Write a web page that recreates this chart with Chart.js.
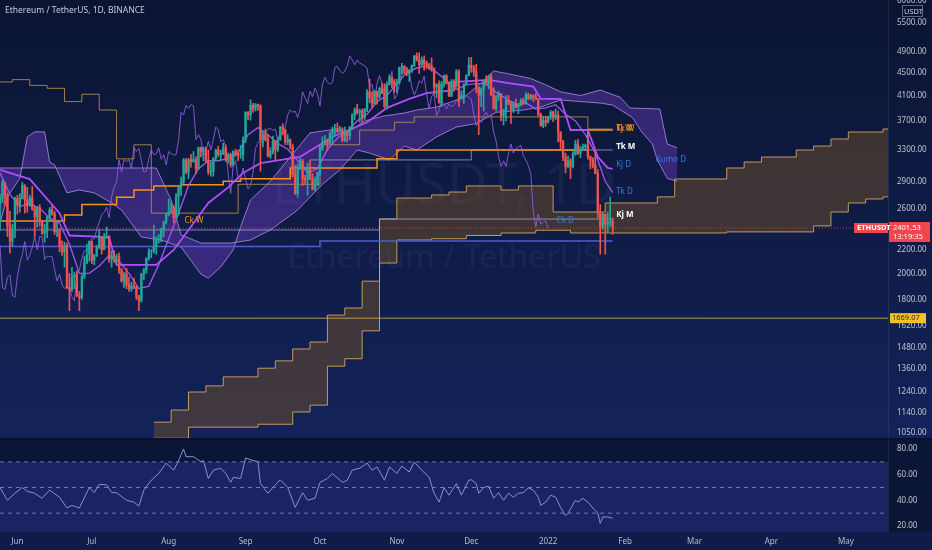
<!DOCTYPE html>
<html>
<head>
<meta charset="utf-8">
<script src="https://cdn.jsdelivr.net/npm/chart.js@4.4.1/dist/chart.umd.min.js"></script>
<style>
  html, body { margin: 0; padding: 0; background: #0e1a44; }
  #wrap { width: 932px; height: 550px; }
</style>
</head>
<body>
<div id="wrap"><canvas id="chart" width="932" height="550"></canvas></div>
<script>
// day 0 = 1 Jun 2021; candles run 25 May 2021 .. 27 Jan 2022
const firstDay = -7;
const firstOpen = 2643;

const closes = [
  2708,2888,2737,2420,2278,2390,2707,
  2634,2707,2855,2689,2628,2712,2592,2513,2610,2473,2355,2373,2508,2586,2550,2366,2373,2231,2181,2240,1888,1874,1968,1988,1830,1816,1972,2085,2160,2274,
  2110,2150,2220,2320,2200,2320,2320,2115,2145,2140,2140,2030,1940,1995,1910,1880,1900,1895,1820,1790,1995,2030,2125,2190,2190,2230,2300,2300,2385,2460,2535,
  2560,2610,2505,2725,2830,2890,3160,3010,3165,3140,3165,3050,3320,3270,3310,3150,3010,3020,3180,3290,3230,3240,3320,3170,3230,3100,3270,3240,3225,3230,3430,
  3830,3790,3940,3890,3950,3930,3430,3500,3430,3210,3270,3410,3290,3430,3610,3570,3400,3430,3330,2980,2760,3080,3150,2930,2920,3060,2930,2810,2850,3000,
  3310,3390,3420,3380,3520,3580,3590,3560,3580,3420,3540,3490,3610,3790,3870,3830,3850,3750,3880,4160,4060,3970,4170,4080,4220,4130,3930,4290,4410,4330,4290,
  4320,4590,4610,4530,4480,4520,4620,4810,4730,4640,4730,4670,4650,4620,4580,4240,4290,3990,4300,4440,4310,4090,4340,4270,4520,4040,4100,4290,4440,4630,
  4590,4510,4240,4110,4200,4350,4310,4430,4110,3890,4080,4130,3780,3860,4020,3960,3880,3960,3920,3940,4020,3980,4110,4050,4100,4070,4040,3800,3630,3710,3680,
  3770,3830,3760,3790,3540,3410,3200,3080,3150,3080,3240,3370,3250,3310,3330,3350,3210,3160,3090,2990,2560,2410,2540,2440,2460,2470,2401.53
];
const highs = [
  2750,2910,2890,2765,2570,2440,2720,
  2740,2760,2890,2860,2830,2740,2840,2620,2620,2640,2480,2440,2520,2610,2630,2570,2460,2400,2280,2270,2260,2000,2050,2010,2020,1860,1990,2140,2250,2280,
  2280,2160,2240,2390,2320,2350,2410,2330,2190,2190,2160,2170,2040,2010,2040,1970,1930,1960,1900,1830,2000,2040,2130,2210,2200,2430,2320,2340,2400,2470,2550,
  2700,2670,2630,2760,2840,2950,3180,3180,3180,3230,3270,3200,3330,3330,3330,3330,3290,3130,3190,3300,3340,3290,3380,3360,3250,3250,3280,3300,3290,3350,3470,
  3840,3840,4030,3970,3970,3960,3950,3550,3580,3500,3320,3480,3420,3460,3620,3660,3580,3500,3440,3370,3090,3110,3180,3170,2970,3120,3160,2990,2950,3010,
  3340,3470,3490,3440,3540,3610,3650,3670,3620,3600,3610,3550,3620,3810,3900,3960,3880,3880,3890,4200,4380,4160,4190,4170,4240,4300,4300,4300,4460,4420,4380,
  4380,4600,4670,4620,4590,4550,4640,4820,4870,4870,4790,4810,4710,4670,4770,4580,4300,4350,4340,4450,4460,4330,4370,4370,4550,4550,4180,4300,4460,4780,
  4780,4630,4650,4240,4230,4370,4440,4450,4480,4230,4100,4170,4130,3880,4100,4100,4010,4000,4040,3970,4050,4060,4150,4140,4120,4110,4130,4050,3820,3770,3770,
  3770,3860,3850,3880,3850,3540,3420,3250,3210,3180,3270,3420,3430,3340,3370,3370,3360,3200,3190,3280,3040,2640,2550,2540,2560,2720,2500
];
const lows = [
  2380,2660,2630,2320,2170,2230,2310,
  2540,2560,2700,2550,2560,2620,2580,2320,2410,2420,2340,2270,2310,2470,2530,2340,2320,2180,2150,2050,1880,1720,1860,1880,1820,1720,1800,1960,2080,2100,
  2080,2070,2140,2210,2160,2200,2300,2090,2050,2090,2080,2000,1930,1890,1880,1860,1860,1880,1800,1720,1780,1950,2000,2110,2130,2170,2160,2260,2270,2320,2440,
  2520,2550,2450,2490,2530,2740,2870,2990,2930,3070,3130,2990,3040,3200,3150,3130,2980,2960,2960,3150,3200,3150,3230,3140,3120,3070,3080,3210,3150,3180,3150,
  3390,3720,3710,3830,3850,3860,3020,3330,3410,3200,3180,3240,3160,3270,3420,3510,3360,3360,3300,2950,2750,2720,3040,2850,2860,2740,2920,2800,2790,2850,
  2970,3280,3370,3280,3370,3380,3480,3530,3550,3400,3400,3400,3430,3590,3720,3800,3680,3680,3720,3840,3980,3900,3950,3960,4050,4130,3900,3880,4280,4230,4150,
  4150,4300,4470,4480,4440,4340,4500,4610,4710,4480,4620,4540,4570,4550,4520,4120,4060,3970,3920,4240,4290,4080,4080,4170,4240,3920,4050,3970,4280,4440,
  4500,4430,4150,3500,3920,3850,4270,4210,4100,3880,3850,4020,3700,3640,3700,3950,3660,3830,3900,3810,3930,3950,3960,4030,4030,4000,4030,3770,3620,3600,3620,
  3670,3720,3690,3720,3400,3310,3150,3000,3060,2930,3060,3220,3230,3190,3280,3280,3170,3050,3060,2990,2500,2160,2390,2160,2360,2420,2340
];
const lastPrice = 2401.53;
const lastTime = "13:19:35";
const supportPrice = 1669.07;

// time axis
const monthDays = [0, 30, 61, 92, 122, 153, 183, 214, 245, 273, 304, 334];
const monthLabels = ["Jun", "Jul", "Aug", "Sep", "Oct", "Nov", "Dec", "2022", "Feb", "Mar", "Apr", "May"];
const priceTicks = [1050, 1140, 1240, 1360, 1480, 1620, 1800, 2000, 2200, 2600, 2900, 3300, 3700, 4100, 4500, 4900, 5500, 6000];
const rsiTicks = [20, 40, 60, 80];

// daily kumo (spans shifted forward)
const kumoDaysA = [-7,-4,1,4,7,11,13,15,20,25,31,38,42,50,58,66,74,77,82,87,90,94,102,110,118,126,133,140,148,156,161,169,180,187,192,198,207,213,219,227,235,243,247,259,262,266];
const kumoA = [2451,2723,2935,3468,3540,3540,3135,3098,2768,2800,2768,2657,2583,2316,2288,2224,1994,1962,2052,2198,2412,2690,2900,3198,3526,3567,3526,3700,3775,3820,3866,3912,4070,4310,4525,4475,4390,4280,4160,4100,4190,4070,3898,3882,3370,3320];
const kumoDaysB = [-7,56,62,66,74,86,94,102,113,123,130,137,142,150,156,161,169,177,185,193,204,211,219,235,240,248,252,256,258,262,266];
const kumoB = [3060,3060,2690,2335,2260,2260,2288,2383,2583,2865,3036,3290,3250,3161,3343,3290,3468,3610,3660,3830,3866,3912,4026,3976,3945,3750,3526,3370,3161,2935,2900];

// weekly kumo (stepped)
const wkDaysA = [55,62,69,76,83,97,104,111,118,125,132,139,146,153,167,174,181,195,202,216,237,258,265,286,293,300,314,321,328,335,349,351];
const wkA = [1097,1152,1239,1270,1317,1364,1405,1474,1516,1690,1739,1938,2491,2710,2744,2777,2846,2800,2846,2562,2657,2723,2927,3060,3135,3198,3290,3343,3440,3538,3582,3582];
const wkDaysB = [55,69,97,111,118,125,132,139,146,153,167,181,195,209,223,286,321,328,335,342,349,351];
const wkB = [1028,1075,1088,1143,1175,1375,1417,1586,2085,2288,2300,2330,2354,2380,2354,2364,2422,2562,2657,2700,2723,2723];

// daily tenkan / kijun
const tkDDays = [-7,-3,1,5,9,13,17,21,25,29,33,37,41,45,49,53,57,61,65,69,73,77,81,85,89,93,97,101,105,109,113,117,121,125,129,133,137,141,145,149,153,157,161,165,169,173,177,181,185,189,193,197,201,205,209,213,217,221,225,229,233,237,240];
const tkD = [3000,2750,2620,2650,2600,2500,2450,2250,2000,2000,2060,2150,2100,2000,1880,1900,2070,2300,2550,2850,3050,3150,3150,3180,3250,3500,3600,3500,3380,3300,3150,3000,3050,3300,3450,3550,3700,3800,4000,4100,4300,4500,4580,4620,4500,4350,4200,4280,4300,4300,4150,4050,3950,3980,3880,3900,3950,3800,3700,3500,3250,2900,2770];
const kjDDays = [-7,5,17,21,37,40,56,63,69,77,85,91,98,114,127,141,149,158,165,176,177,190,198,208,211,219,223,230,234,238,240];
const kjD = [3036,2925,2550,2330,2316,2069,2069,2198,2383,2657,2830,3000,3120,3200,3468,3680,3900,4045,4140,4190,4330,4366,4310,4250,4045,4045,3567,3567,3200,3060,3048];

// weekly / monthly lines (stepped)
const tkWDays = [-7,19,26,40,47,55,66,83,90,110,145,153,230,240];
const tkW = [2470,2530,2640,2720,2800,2846,2860,2900,2930,3060,3175,3290,3565,3565];
const kjWDays = [-7,-2,5,12,19,26,33,40,47,54,89,122,138,152,160,230,240];
const kjW = [4330,4370,4270,4220,4000,4120,3866,3175,3360,2550,2865,3360,3565,3680,3760,3580,3580];
const tkMDays = [118,183,240];
const tkM = [3161,3290,3290];
const kjMDays = [-7,146,240];
const kjM = [2383,2490,2490];
const levelDays = [-7,122,240];
const level = [2230,2280,2280];

// RSI pane
const rsiDays = [-7,-4,-1,2,4,7,10,13,17,20,22,25,29,31,33,36,38,40,44,47,49,51,54,57,60,63,65,67,68,71,74,75,77,79,82,84,86,87,90,92,95,97,98,101,103,106,109,112,115,117,120,122,125,127,131,133,135,138,141,143,145,148,150,153,155,158,160,163,166,168,170,172,174,177,179,182,183,185,186,188,190,192,194,196,198,200,202,204,206,208,210,211,213,215,217,219,221,222,225,226,228,230,232,234,235,236,238,240];
const rsiValues = [50,40,45.5,50,47,45.5,41.6,48,42.4,34,36,34,50,46,52.5,52,46,46,40,38.6,35.5,48,55.7,61,69,63.5,71,80,74,74,70,71,57,63.5,65,61,54,58,57,73,71,70,53,45.5,50,56,50,34.5,46,40,41.6,54,57,61,54,55.7,63.5,65,69,63.5,66,55.7,66,61,66.7,62,70,63.5,58,45.5,38.6,50,44,53,44,55.7,56,53,45.5,50,51,41.6,46,40,45.5,42.4,45.5,46,49.6,48,42.4,36,38.6,44,42.4,34.5,28,30,40,38.6,41.6,38.6,34,30,22,27,27,26];
const rsiLevels = [70, 50, 30];

// on-chart tags
const tagText = ["Kj W", "Tk W", "Tk M", "Kj D", "Kumo D", "Tk D", "Kj M", "Ck W", "Ck D"];
const tagDay = [241, 241, 241, 241, 257, 241, 241, 67, 217];
const tagPrice = [3580, 3580, 3330, 3100, 3161, 2777, 2530, 2470, 2470];
const tagColor = ["#f7931a", "#f7931a", "#ffffff", "#3b74e6", "#3b74e6", "#3b74e6", "#ffffff", "#f7931a", "#3b74e6"];

const fontFam = '"Noto Sans", "DejaVu Sans", sans-serif';
Chart.defaults.font.family = fontFam;

const xy = (xs, ys) => xs.map((x, i) => ({ x: x, y: ys[i] }));
const candleDays = closes.map((c, i) => firstDay + i);
const opens = closes.map((c, i) => i === 0 ? firstOpen : closes[i - 1]);
const candleColors = closes.map((c, i) => c >= opens[i] ? "#26a69a" : "#ef5350");
const chikou = closes.slice(26).map((c, i) => ({ x: firstDay + i, y: c }));
const across = (v) => [{ x: -7, y: v }, { x: 351, y: v }];

const datasets = [];
const add = (ds) => { datasets.push(ds); return datasets.length - 1; };
const line = (data, color, width, extra) => Object.assign({
  type: "line", data: data, borderColor: color, borderWidth: width,
  pointRadius: 0, fill: false, tension: 0, yAxisID: "y"
}, extra || {});

add({ type: "bar", data: candleDays.map((d, i) => ({ x: d, y: [lows[i], highs[i]] })),
  backgroundColor: candleColors, barThickness: 1, maxBarThickness: 1, grouped: false, yAxisID: "y" });
add({ type: "bar", data: candleDays.map((d, i) => ({ x: d, y: [opens[i], closes[i]] })),
  backgroundColor: candleColors, barThickness: 1.7, maxBarThickness: 1.7, grouped: false, yAxisID: "y" });

add(line(xy(rsiDays, rsiValues), "#8a8ed8", 1, { yAxisID: "yRsi" }));
rsiLevels.forEach(v => add(line(across(v), "rgba(190,195,235,0.55)", 1, { yAxisID: "yRsi", borderDash: [4, 4] })));
add(line(across(rsiLevels[0]), "rgba(0,0,0,0)", 0, { yAxisID: "yRsi", fill: "start", backgroundColor: "rgba(60,56,180,0.35)" }));

add(line(xy(tkDDays, tkD), "rgba(170,90,245,0.9)", 1.4));
add(line(xy(kjDDays, kjD), "#b24cff", 1.8));
add(line(chikou, "rgba(150,95,225,0.85)", 1));
add(line(xy(tkWDays, tkW), "#f7931a", 1.5, { stepped: true }));
add(line(xy(kjWDays, kjW), "rgba(200,150,80,0.8)", 1, { stepped: true }));
add(line(xy(tkMDays, tkM), "rgba(170,170,200,0.75)", 1, { stepped: true }));
add(line(xy(kjMDays, kjM), "rgba(170,170,210,0.75)", 1, { stepped: true }));
add(line(xy(levelDays, level), "#4f5bd5", 1.5, { stepped: true }));
add(line(across(lastPrice), "rgba(242,54,69,0.8)", 1, { borderDash: [1, 2] }));
add(line(across(supportPrice), "rgba(214,170,70,0.85)", 1));

const kA = add(line(xy(kumoDaysA, kumoA), "rgba(185,150,235,0.75)", 1));
add(line(xy(kumoDaysB, kumoB), "rgba(185,150,235,0.75)", 1, { fill: kA, backgroundColor: "rgba(130,70,220,0.35)" }));
const wA = add(line(xy(wkDaysA, wkA), "rgba(214,165,90,0.9)", 1, { stepped: true }));
add(line(xy(wkDaysB, wkB), "rgba(214,165,90,0.9)", 1, { stepped: true, fill: wA, backgroundColor: "rgba(110,78,40,0.5)" }));

const backdrop = {
  id: "backdrop",
  beforeDraw(chart) {
    const { ctx, width, height } = chart;
    const y = chart.scales.y, r = chart.scales.yRsi;
    ctx.save();
    ctx.fillStyle = "#0f1c4a";
    ctx.fillRect(0, 0, width, height);
    const g = ctx.createLinearGradient(0, 0, 0, y.bottom);
    g.addColorStop(0, "#0b1431");
    g.addColorStop(1, "#13235a");
    ctx.fillStyle = g;
    ctx.fillRect(0, 0, width, y.bottom);
    ctx.fillStyle = "#0b1636";
    ctx.fillRect(0, r.top, width, r.bottom - r.top);
    ctx.restore();
  },
  beforeDatasetsDraw(chart) {
    const { ctx, chartArea } = chart;
    const y = chart.scales.y;
    const cx = (chartArea.left + chartArea.right) / 2;
    const cy = (y.top + y.bottom) / 2;
    ctx.save();
    ctx.fillStyle = "rgba(140,150,200,0.08)";
    ctx.textAlign = "center";
    ctx.textBaseline = "middle";
    ctx.font = "56px " + fontFam;
    ctx.fillText("ETHUSDT, 1D", cx, cy - 31);
    ctx.font = "32px " + fontFam;
    ctx.fillText("Ethereum / TetherUS", cx, cy + 39);
    ctx.restore();
  },
  afterDatasetsDraw(chart) {
    const { ctx } = chart;
    const xs = chart.scales.x, ys = chart.scales.y;
    ctx.save();
    ctx.textBaseline = "middle";
    tagText.forEach((t, i) => {
      ctx.font = (tagColor[i] === "#ffffff" ? "bold " : "") + "8px " + fontFam;
      ctx.fillStyle = tagColor[i];
      ctx.fillText(t, xs.getPixelForValue(tagDay[i]) + 1, ys.getPixelForValue(tagPrice[i]));
    });
    ctx.restore();
  },
  afterDraw(chart) {
    const { ctx, chartArea, width } = chart;
    const ys = chart.scales.y;
    ctx.save();
    // pane separators
    ctx.strokeStyle = "rgba(255,255,255,0.07)";
    ctx.lineWidth = 1;
    ctx.beginPath();
    ctx.moveTo(chartArea.right + 0.5, 0);
    ctx.lineTo(chartArea.right + 0.5, chartArea.bottom);
    ctx.stroke();
    ctx.strokeStyle = "#081030";
    ctx.lineWidth = 2;
    ctx.beginPath();
    ctx.moveTo(0, ys.bottom);
    ctx.lineTo(width, ys.bottom);
    ctx.stroke();

    // title
    ctx.fillStyle = "#c8ccd8";
    ctx.font = "8.5px " + fontFam;
    ctx.textBaseline = "middle";
    ctx.fillText("Ethereum / TetherUS, 1D, BINANCE", 5, 11);

    // currency tag
    ctx.fillStyle = "#0c1533";
    ctx.fillRect(902, 5, 21, 12);
    ctx.strokeStyle = "rgba(190,195,215,0.45)";
    ctx.lineWidth = 1;
    ctx.strokeRect(902.5, 5.5, 20, 11);
    ctx.fillStyle = "#c8ccd8";
    ctx.font = "7.5px " + fontFam;
    ctx.fillText("USDT", 904, 11.5);

    // support label
    const sy = ys.getPixelForValue(supportPrice);
    ctx.fillStyle = "#f5c02e";
    ctx.fillRect(890, sy - 5, 36, 10);
    ctx.fillStyle = "#3a2c05";
    ctx.fillText(supportPrice.toFixed(2), 892, sy);

    // last price labels
    const py = ys.getPixelForValue(lastPrice);
    ctx.fillStyle = "#f0474f";
    ctx.fillRect(889, py - 6, 41, 20);
    ctx.fillRect(854, py - 5, 34, 10);
    ctx.fillStyle = "#ffffff";
    ctx.font = "bold 7.5px " + fontFam;
    ctx.fillText("ETHUSDT", 857, py);
    ctx.font = "7.5px " + fontFam;
    ctx.fillText(lastPrice.toFixed(2), 893, py);
    ctx.fillText(lastTime, 893, py + 9);
    ctx.restore();
  }
};

const tickFont = { size: 8, family: fontFam };
// right axes: fixed width, and no label padding pushing the panes down from the top edge
const fitRight = (s) => { s.width = 44; s.paddingTop = 0; };
const fmt = (v) => Number(v).toFixed(2);

new Chart(document.getElementById("chart"), {
  type: "line",
  data: { datasets: datasets },
  options: {
    responsive: false,
    animation: false,
    devicePixelRatio: 1,
    layout: { padding: 0, autoPadding: false },
    plugins: { legend: { display: false }, tooltip: { enabled: false } },
    scales: {
      x: {
        type: "linear", min: -7, max: 351, offset: false, position: "bottom",
        grid: { display: false, offset: false, drawTicks: false }, border: { display: false },
        afterBuildTicks: (s) => { s.ticks = monthDays.map(v => ({ value: v })); },
        afterFit: (s) => { s.height = 18; },
        ticks: { color: "#b8bccb", font: tickFont, padding: 5, autoSkip: false, maxRotation: 0,
          callback: (v, i) => monthLabels[i] }
      },
      y: {
        type: "logarithmic", position: "right", stack: "v", stackWeight: 439,
        min: 1025, max: 6027, beginAtZero: false, offset: false,
        grid: { display: false, drawTicks: true, tickLength: 9 }, border: { display: false },
        afterBuildTicks: (s) => { s.ticks = priceTicks.map(v => ({ value: v })); },
        afterFit: fitRight,
        ticks: { color: "#c0c3cf", font: tickFont, padding: 0, autoSkip: false, callback: fmt }
      },
      yRsi: {
        type: "linear", position: "right", stack: "v", stackWeight: 93,
        min: 15.3, max: 87.8, offset: false,
        grid: { display: false, drawTicks: true, tickLength: 9 }, border: { display: false },
        afterBuildTicks: (s) => { s.ticks = rsiTicks.map(v => ({ value: v })); },
        afterFit: fitRight,
        ticks: { color: "#c0c3cf", font: tickFont, padding: 0, autoSkip: false, callback: fmt }
      }
    }
  },
  plugins: [backdrop]
});
</script>
</body>
</html>
